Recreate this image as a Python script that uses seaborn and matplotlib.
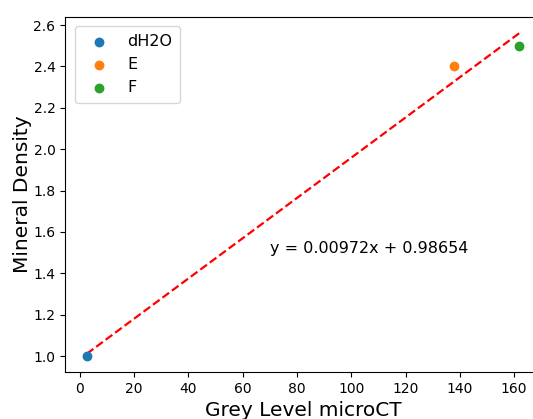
import numpy as np
import matplotlib
matplotlib.use("Agg")
import matplotlib.pyplot as plt
import seaborn as sns

labels = ["dH2O", "E", "F"]
grey_level = [2.5, 138, 162]
mineral_density = [1.0, 2.4, 2.5]
colors = ["#1f77b4", "#ff7f0e", "#2ca02c"]

slope, intercept = np.polyfit(grey_level, mineral_density, 1)

fig = plt.figure(figsize=(5.33, 4.19), dpi=100)
ax = fig.add_axes([0.1222, 0.1117, 0.893, 0.848])

for lab, xv, yv, c in zip(labels, grey_level, mineral_density, colors):
    sns.scatterplot(x=[xv], y=[yv], color=c, label=lab, s=50, linewidth=0, ax=ax, zorder=3)

sns.regplot(x=np.array(grey_level), y=np.array(mineral_density), scatter=False, ci=None,
            color="red", line_kws=dict(ls="--", lw=1.6), ax=ax, truncate=True)

ax.text(70, 1.5, f"y = {slope:.5f}x + {intercept:.5f}", fontsize=11.5)

xmin, xmax = min(grey_level), max(grey_level)
ylo = min(mineral_density + [slope * xmin + intercept])
yhi = max(mineral_density + [slope * xmax + intercept])
mx = 0.05 * (xmax - xmin)
my = 0.05 * (yhi - ylo)
ax.set_xlim(xmin - mx, xmax + mx)
ax.set_ylim(ylo - my, yhi + my)

ax.set_xlabel("Grey Level microCT", fontsize=14.5)
ax.set_ylabel("Mineral Density", fontsize=14.5, labelpad=1)
ax.set_xticks(np.arange(0, 161, 20))
ax.set_yticks(np.arange(1.0, 2.61, 0.2))
ax.tick_params(labelsize=10)
ax.legend(loc="upper left", fontsize=11.5, borderaxespad=0.6, borderpad=0.5)

fig.savefig("out.png", dpi=100)
